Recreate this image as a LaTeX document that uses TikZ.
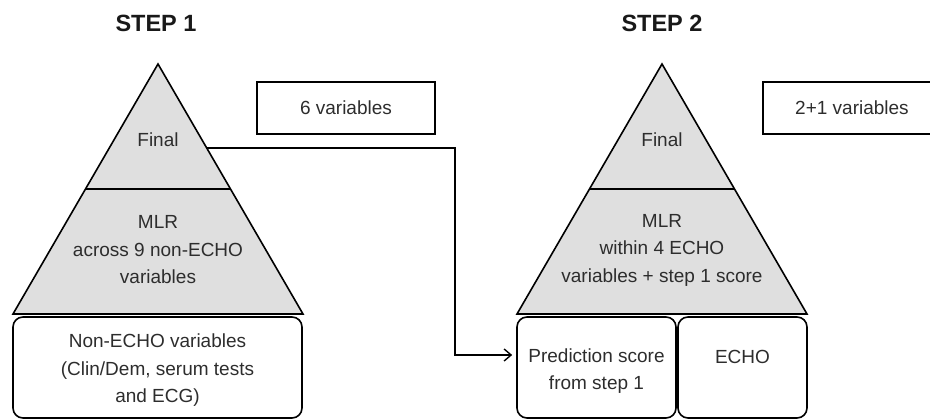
\documentclass[tikz,border=0pt]{standalone}
\usepackage{fontspec}
\setmainfont{Liberation Sans}
\usetikzlibrary{arrows.meta}
\definecolor{pyrfill}{RGB}{223,223,223}
\definecolor{inktxt}{RGB}{45,45,45}

\begin{document}
\begin{tikzpicture}[x=1pt,y=-1pt, line width=1.6pt,
  txt/.style={text=inktxt, align=center, inner sep=0pt, font=\fontsize{19}{27.5}\selectfont},
  steptxt/.style={text=black!90, inner sep=0pt, font=\fontsize{23.5}{27}\selectfont\bfseries},
  varbox/.style={draw, minimum width=178pt, minimum height=52pt, inner sep=0pt},
  inbox/.style={draw, rounded corners=10pt, minimum height=101pt, inner sep=0pt}]
\useasboundingbox (0,0) rectangle (930,419);
\clip (0,0) rectangle (930,419);

% step 1
\node[steptxt] (step1) at (156,23) {STEP 1};
\filldraw[fill=pyrfill] (158,64) -- (13,314) -- (303,314) -- cycle;
\draw (85.5,189) -- (230.5,189);
\node[txt] (final1) at (158,140) {Final};
\node[txt] (mlr1) at (158,250) {MLR\\across 9 non-ECHO\\variables};
\node[inbox, minimum width=289pt] (nonecho) at (157.5,367.5) {};
\node[txt] (nonechotxt) at (157.5,370.5) {Non-ECHO variables\\(Clin/Dem, serum tests\\and ECG)};
\node[varbox] (var1) at (346,108) {};
\node[txt] (var1txt) at (346,108) {6 variables};

% step 2
\node[steptxt] (step2) at (662,23) {STEP 2};
\filldraw[fill=pyrfill] (662,64) -- (517,314) -- (807,314) -- cycle;
\draw (589.5,189) -- (734.5,189);
\node[txt] (final2) at (662,140) {Final};
\node[txt] (mlr2) at (662,250) {MLR\\within 4 ECHO\\variables + step 1 score};
\node[inbox, minimum width=159pt] (predbox) at (596.5,367.5) {};
\node[txt] (predtxt) at (596.5,371) {Prediction score\\from step 1};
\node[inbox, minimum width=129pt] (echobox) at (742.5,367.5) {};
\node[txt] (echotxt) at (742.5,357) {ECHO};
\node[varbox] (var2) at (852,108) {};
\node[txt] (var2txt) at (852,108) {2+1 variables};

% score passed on
\coordinate (arrstart) at (206.7,148);
\draw[line width=1.4pt, -{Straight Barb[length=7pt,width=12pt]}, shorten >=4pt]
  (arrstart) -- (455,148) |- ([yshift=12.5pt]predbox.west);

\end{tikzpicture}
\end{document}
